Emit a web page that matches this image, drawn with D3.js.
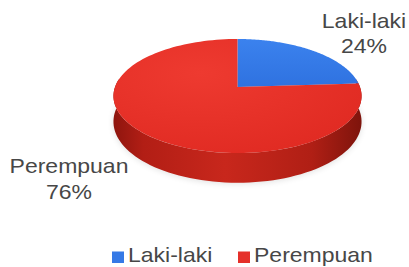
<!DOCTYPE html>
<html><head><meta charset="utf-8">
<script src="https://cdn.jsdelivr.net/npm/d3@7"></script>
<style>
html,body{margin:0;padding:0;background:#fff;}
svg{display:block;}
text{font-family:"Liberation Sans",Arial,sans-serif;fill:#474747;}
</style></head>
<body>
<svg id="chart" width="409" height="267"></svg>
<script>
const categories = ["Laki-laki", "Perempuan"];
const values = [24, 76];
const percentLabels = ["24%", "76%"];
const topColors = ["#3579e6", "#e5302a"];

const svg = d3.select("#chart");
const defs = svg.append("defs");

// geometry (perspective ellipse)
const cx = 237.5, cy = 87, a = 55.6, b = 122.5, k = 0.158, depth = 25;
function proj(theta, lower) {
  const u = Math.sin(theta), v = -Math.cos(theta);
  const s = 1 / (1 - k * v);
  return [cx + b * u * s, cy + a * v * s + (lower ? depth * s : 0)];
}
const pie = d3.pie().sort(null).startAngle(0).endAngle(2 * Math.PI);
const arcs = pie(values);
const line = d3.line();
function sample(a0, a1, n) {
  return d3.range(n + 1).map(i => a0 + (a1 - a0) * i / n);
}

// gradients
const sideGrad = defs.append("linearGradient").attr("id", "side")
  .attr("x1", "0").attr("x2", "1").attr("y1", "0").attr("y2", "0");
[[0, "#8e150e"], [0.12, "#b21e15"], [0.45, "#c8271c"], [0.8, "#b01f15"], [1, "#7e140c"]]
  .forEach(([o, c]) => sideGrad.append("stop").attr("offset", o).attr("stop-color", c));

const redGrad = defs.append("radialGradient").attr("id", "redTop")
  .attr("cx", "0.35").attr("cy", "0.3").attr("r", "0.8");
redGrad.append("stop").attr("offset", 0).attr("stop-color", "#ee3a30");
redGrad.append("stop").attr("offset", 1).attr("stop-color", "#e02a22");
const blueGrad = defs.append("linearGradient").attr("id", "blueTop")
  .attr("x1", "0").attr("x2", "0").attr("y1", "0").attr("y2", "1");
blueGrad.append("stop").attr("offset", 0).attr("stop-color", "#3b82ee");
blueGrad.append("stop").attr("offset", 1).attr("stop-color", "#2f72e0");
const fills = ["url(#blueTop)", "url(#redTop)"];

// soft shadow under pie
const blur = defs.append("filter").attr("id", "blur").attr("x", "-20%").attr("y", "-50%")
  .attr("width", "140%").attr("height", "200%");
blur.append("feGaussianBlur").attr("stdDeviation", 3);
{
  const pts = sample(0, 2 * Math.PI, 120).map(t => { const p = proj(t, true); return [p[0], p[1] + 1]; });
  svg.append("path").attr("d", line(pts) + "Z").attr("fill", "#000").attr("opacity", 0.12)
    .attr("filter", "url(#blur)");
}

// sides (visible front portion)
arcs.forEach((d, i) => {
  const s0 = Math.max(d.startAngle, Math.PI / 2 - 0.15);
  const s1 = Math.min(d.endAngle, 3 * Math.PI / 2 + 0.15);
  if (s1 <= s0) return;
  const ts = sample(s0, s1, 80);
  const pts = ts.map(t => proj(t, false)).concat(ts.slice().reverse().map(t => proj(t, true)));
  svg.append("path").attr("d", line(pts) + "Z").attr("fill", "url(#side)");
});

// top faces
arcs.forEach((d, i) => {
  const ts = sample(d.startAngle, d.endAngle, 120);
  const pts = [[cx, cy]].concat(ts.map(t => proj(t, false)));
  svg.append("path").attr("d", line(pts) + "Z").attr("fill", fills[i]);
});

// data labels
const labelPos = [[364, 28, 53], [69, 173, 199]];
categories.forEach((c, i) => {
  const g = svg.append("g").attr("transform", `translate(${labelPos[i][0]},0) scale(1.15,1)`);
  g.append("text").attr("x", 0).attr("y", labelPos[i][1]).attr("text-anchor", "middle")
    .attr("font-size", 20).text(c);
  g.append("text").attr("x", 0).attr("y", labelPos[i][2]).attr("text-anchor", "middle")
    .attr("font-size", 20).text(percentLabels[i]);
});

// legend
const legX = [112, 238];
categories.forEach((c, i) => {
  svg.append("rect").attr("x", legX[i]).attr("y", 251.5).attr("width", 12).attr("height", 11.5)
    .attr("fill", topColors[i]);
  svg.append("g").attr("transform", `translate(${legX[i] + 16},0) scale(1.15,1)`)
    .append("text").attr("x", 0).attr("y", 262.5).attr("font-size", 20).text(c);
});
</script>
</body></html>
